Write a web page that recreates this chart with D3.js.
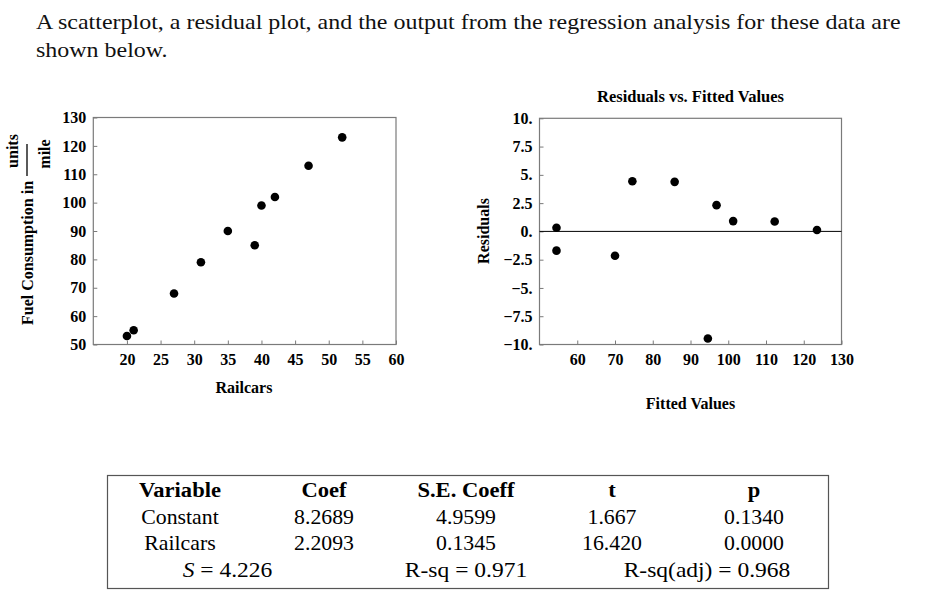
<!DOCTYPE html>
<html>
<head>
<meta charset="utf-8">
<script src="https://cdn.jsdelivr.net/npm/d3@7"></script>
<style>
  body { margin: 0; background: #fff; }
  svg { display: block; }
  text { font-family: "Liberation Serif", "Times New Roman", serif; }
</style>
</head>
<body>
<svg id="chart" width="948" height="604"></svg>
<script>
// scatterplot data
var railcars = [20, 21, 27, 31, 35, 39, 40, 42, 47, 52];
var fuel = [53, 55, 68, 79, 90, 85, 99, 102, 113, 123];

// residual plot data
var fitted = [54.5, 54.5, 70.0, 74.6, 85.8, 94.6, 96.9, 101.3, 112.3, 123.5];
var residuals = [0.32, -1.7, -2.15, 4.44, 4.38, -9.47, 2.32, 0.91, 0.88, 0.12];

// tick labels
var scatterXTicks = [20, 25, 30, 35, 40, 45, 50, 55, 60];
var scatterYTicks = [50, 60, 70, 80, 90, 100, 110, 120, 130];
var residXTicks = [60, 70, 80, 90, 100, 110, 120, 130];
var residYTicks = [10, 7.5, 5, 2.5, 0, -2.5, -5, -7.5, -10];

// regression output
var tableHeader = ["Variable", "Coef", "S.E. Coeff", "t", "p"];
var tableRows = [
    ["Constant", "8.2689", "4.9599", "1.667", "0.1340"],
    ["Railcars", "2.2093", "0.1345", "16.420", "0.0000"]
];
var sValue = "4.226";
var rSq = "0.971";
var rSqAdj = "0.968";

var introLines = [
    "A scatterplot, a residual plot, and the output from the regression analysis for these data are",
    "shown below."
];

var svg = d3.select("#chart");
var frameColor = "#7a7a7a";

svg.append("rect").attr("width", 948).attr("height", 604).attr("fill", "#fff");

// intro text (the source text is a little wider than Times, so stretch it)
svg.selectAll(".intro")
        .data(introLines)
        .enter()
        .append("text")
        .attr("class", "intro")
        .attr("transform", function (d, i) {
            return "translate(36," + (29 + i * 28) + ") scale(1.09,1)";
        })
        .attr("font-size", 22)
        .attr("fill", "#111")
        .text(function (d) { return d; });

function resFmt(v) {
    // Mathematica style: "5." "2.5" "−10."
    var s = (v % 1 === 0) ? Math.abs(v) + "." : String(Math.abs(v));
    return (v < 0 ? "\u2212" : "") + s;
}

function drawFrame(g, x, y, xTicks, yTicks, yFmt) {
    var x0 = x.range()[0], x1 = x.range()[1];
    var y0 = y.range()[0], y1 = y.range()[1];

    var xAxis = d3.axisBottom(x).tickValues(xTicks).tickSizeInner(-4).tickSizeOuter(0).tickPadding(9)
            .tickFormat(function (d) { return d; });
    var yAxis = d3.axisLeft(y).tickValues(yTicks).tickSizeInner(-4).tickSizeOuter(0).tickPadding(7)
            .tickFormat(yFmt);

    var gx = g.append("g").attr("transform", "translate(0," + y0 + ")").call(xAxis);
    var gy = g.append("g").attr("transform", "translate(" + x0 + ",0)").call(yAxis);

    [gx, gy].forEach(function (a) {
        a.select(".domain").remove();
        a.selectAll(".tick line").attr("stroke", frameColor);
        a.selectAll(".tick text")
                .attr("font-family", "Liberation Serif, serif")
                .attr("font-weight", "bold")
                .attr("font-size", 16)
                .attr("fill", "#000");
    });
    gx.selectAll(".tick text").attr("dy", "0.71em");

    g.append("rect")
            .attr("x", x0).attr("y", y1)
            .attr("width", x1 - x0).attr("height", y0 - y1)
            .attr("fill", "none")
            .attr("stroke", frameColor)
            .attr("stroke-width", 1.2);
}

// ---------- scatterplot ----------
var xS = d3.scaleLinear().domain([15, 60]).range([93.3, 396]);
var yS = d3.scaleLinear().domain([50, 130]).range([344.5, 117.5]);
var gS = svg.append("g");
drawFrame(gS, xS, yS, scatterXTicks, scatterYTicks, function (d) { return d; });

gS.selectAll("circle")
        .data(railcars)
        .enter()
        .append("circle")
        .attr("cx", function (d) { return xS(d); })
        .attr("cy", function (d, i) { return yS(fuel[i]); })
        .attr("r", 4.3)
        .attr("fill", "#000");

gS.append("text")
        .attr("x", 244).attr("y", 393)
        .attr("text-anchor", "middle")
        .attr("font-weight", "bold").attr("font-size", 16)
        .text("Railcars");

// y label with the units fraction
var yl = gS.append("g").attr("font-weight", "bold").attr("font-size", 16);
yl.append("text")
        .attr("transform", "translate(33,325) rotate(-90)")
        .attr("text-anchor", "start")
        .text("Fuel Consumption in");
yl.append("text")
        .attr("transform", "translate(17.5,151) rotate(-90)")
        .attr("text-anchor", "middle")
        .text("units");
yl.append("text")
        .attr("transform", "translate(49.5,154) rotate(-90)")
        .attr("text-anchor", "middle")
        .text("mile");
yl.append("line")
        .attr("x1", 27).attr("x2", 27)
        .attr("y1", 144).attr("y2", 176)
        .attr("stroke", "#000").attr("stroke-width", 1.3);

// ---------- residual plot ----------
var xR = d3.scaleLinear().domain([50, 130]).range([539.5, 841.5]);
var yR = d3.scaleLinear().domain([-10, 10]).range([344.5, 118.3]);
var gR = svg.append("g");
drawFrame(gR, xR, yR, residXTicks, residYTicks, resFmt);

gR.append("line")
        .attr("x1", xR(50)).attr("x2", xR(130))
        .attr("y1", yR(0)).attr("y2", yR(0))
        .attr("stroke", "#000").attr("stroke-width", 1);

gR.selectAll("circle")
        .data(fitted)
        .enter()
        .append("circle")
        .attr("cx", function (d) { return xR(d); })
        .attr("cy", function (d, i) { return yR(residuals[i]); })
        .attr("r", 4.3)
        .attr("fill", "#000");

gR.append("text")
        .attr("x", 690.5).attr("y", 101.5)
        .attr("text-anchor", "middle")
        .attr("font-weight", "bold").attr("font-size", 16.5)
        .text("Residuals vs. Fitted Values");
gR.append("text")
        .attr("x", 690.5).attr("y", 408.5)
        .attr("text-anchor", "middle")
        .attr("font-weight", "bold").attr("font-size", 16)
        .text("Fitted Values");
gR.append("text")
        .attr("transform", "translate(489,231) rotate(-90)")
        .attr("text-anchor", "middle")
        .attr("font-weight", "bold").attr("font-size", 16)
        .text("Residuals");

// ---------- regression table ----------
var colX = [180, 324, 466, 612, 754];
var gT = svg.append("g");
gT.append("rect")
        .attr("x", 107.5).attr("y", 475.5)
        .attr("width", 721).attr("height", 113)
        .attr("fill", "none")
        .attr("stroke", "#555")
        .attr("stroke-width", 1.2);

function place(x, y, sx) {
    return "translate(" + x + "," + y + ") scale(" + sx + ",1)";
}

gT.selectAll(".hdr")
        .data(tableHeader)
        .enter()
        .append("text")
        .attr("class", "hdr")
        .attr("transform", function (d, i) { return place(colX[i], 497, 1.13); })
        .attr("text-anchor", "middle")
        .attr("font-weight", "bold")
        .attr("font-size", 20)
        .text(function (d) { return d; });

tableRows.forEach(function (row, r) {
    gT.selectAll(".row" + r)
            .data(row)
            .enter()
            .append("text")
            .attr("class", "row" + r)
            .attr("transform", function (d, i) { return place(colX[i], 523.5 + r * 26.5, 1.09); })
            .attr("text-anchor", "middle")
            .attr("font-size", 20)
            .text(function (d) { return d; });
});

var sText = gT.append("text")
        .attr("transform", place(227.5, 577, 1.12))
        .attr("text-anchor", "middle")
        .attr("font-size", 21);
sText.append("tspan").attr("font-style", "italic").text("S");
sText.append("tspan").text(" = " + sValue);

gT.append("text")
        .attr("transform", place(466, 577, 1.12))
        .attr("text-anchor", "middle")
        .attr("font-size", 21)
        .text("R-sq = " + rSq);
gT.append("text")
        .attr("transform", place(707, 577, 1.12))
        .attr("text-anchor", "middle")
        .attr("font-size", 21)
        .text("R-sq(adj) = " + rSqAdj);
</script>
</body>
</html>
